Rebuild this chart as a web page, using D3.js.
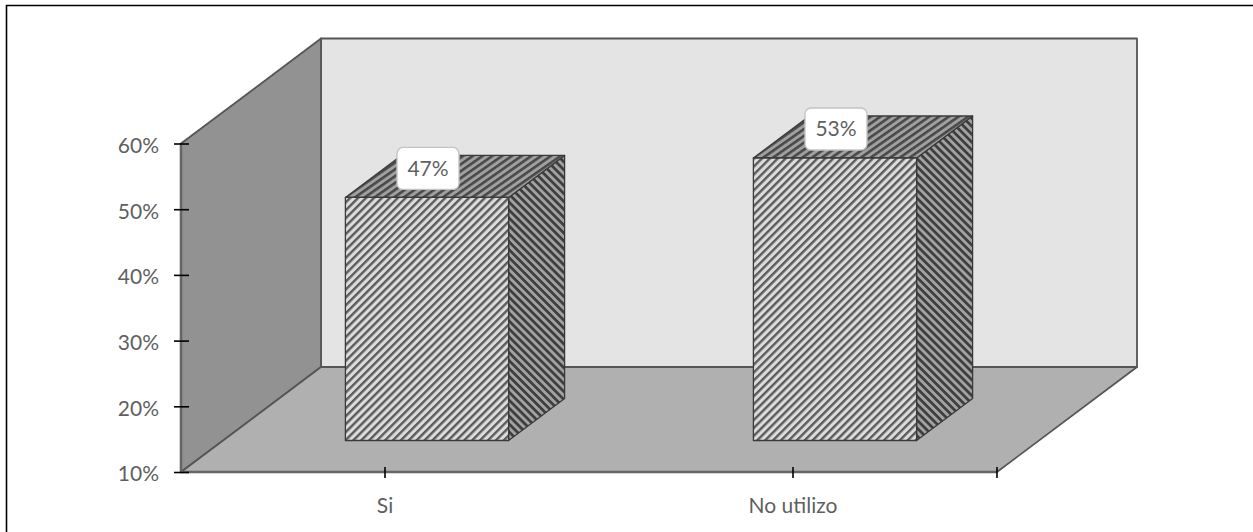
<!DOCTYPE html>
<html>
<head>
<meta charset="utf-8">
<style>
html, body { margin: 0; padding: 0; background: #fff; }
svg { display: block; }
text { font-family: Lato, "Open Sans", sans-serif; fill: #5f5f5f; }
</style>
<script src="https://cdn.jsdelivr.net/npm/d3@7/dist/d3.min.js"></script>
</head>
<body>
<svg id="chart" width="1253" height="532"></svg>
<script>
// Chart content
const categories = ["Si", "No utilizo"];
const shares = [47, 53];
const axisTicks = [10, 20, 30, 40, 50, 60];

const W = 1253, H = 532;
const svg = d3.select("#chart").attr("viewBox", `0 0 ${W} ${H}`);

// Front plane scales, plus the oblique shift that gives the box its depth
const y = d3.scaleLinear().domain([10, 60]).range([472, 143.5]);
const x = d3.scaleBand().domain(categories).range([181, 997]);
const depth = d3.scaleLinear().domain([0, 1]).range([0, 140]);
const lift = d3.scaleLinear().domain([0, 1]).range([0, -105]);
const at = (px, py, d = 0) => [px + depth(d), py + lift(d)];
const poly = pts => "M" + pts.map(p => p.join(",")).join("L") + "Z";

// Hatch fills for the three visible faces of each column
const defs = svg.append("defs");
function hatch(id, bg, ink, period, ang, inkWidth) {
  const p = defs.append("pattern").attr("id", id)
    .attr("patternUnits", "userSpaceOnUse")
    .attr("width", period).attr("height", period)
    .attr("patternTransform", `rotate(${ang})`);
  p.append("rect").attr("width", period).attr("height", period).attr("fill", bg);
  p.append("rect").attr("width", period).attr("height", inkWidth).attr("fill", ink);
}
hatch("hatch-front", "#dcdcdc", "#5a5a5a", 5.6, -45, 2.4);
hatch("hatch-top", "#a0a0a0", "#484848", 5.6, -35, 2.6);
hatch("hatch-side", "#a2a2a2", "#3c3c3c", 5.6, 45, 2.7);

// Sheet edge along the top and left
svg.append("path").attr("d", `M6.5,${H}V5.5H${W}`)
  .attr("fill", "none").attr("stroke", "#000").attr("stroke-width", 1.6);

const [xL, xR] = x.range();
const yB = y.range()[0], yT = y.range()[1];
const wallStroke = { stroke: "#555555", "stroke-width": 1.8, "stroke-linejoin": "round" };
function face(d, fill, s = wallStroke) {
  const el = svg.append("path").attr("d", d).attr("fill", fill);
  Object.entries(s).forEach(([k, v]) => el.attr(k, v));
  return el;
}

// Back wall, side wall, floor
face(poly([at(xL, yB, 1), at(xR, yB, 1), at(xR, yT, 1), at(xL, yT, 1)]), "#e4e4e4");
face(poly([at(xL, yB), at(xL, yB, 1), at(xL, yT, 1), at(xL, yT)]), "#929292");
face(poly([at(xL, yB), at(xR, yB), at(xR, yB, 1), at(xL, yB, 1)]), "#b0b0b0");

// Heavier front edges of the floor and side wall
svg.append("path")
  .attr("d", `M${at(xL, yT).join(",")}V${yB}H${xR}`)
  .attr("fill", "none").attr("stroke", "#666666").attr("stroke-width", 2.6);

// Columns stand between 30% and 70% of the floor depth
const barInset = 0.3, barDepth = 0.4;
const barWidth = x.bandwidth() * 0.4;
const barStroke = { stroke: "#3a3a3a", "stroke-width": 1.3, "stroke-linejoin": "round" };
categories.forEach((c, i) => {
  const cx = x(c) + x.bandwidth() / 2;
  const l = cx - barWidth / 2, r = cx + barWidth / 2;
  const top = y(shares[i]), bot = yB;
  const d0 = barInset, d1 = barInset + barDepth;
  face(poly([at(r, bot, d0), at(r, bot, d1), at(r, top, d1), at(r, top, d0)]), "url(#hatch-side)", barStroke);
  face(poly([at(l, top, d0), at(r, top, d0), at(r, top, d1), at(l, top, d1)]), "url(#hatch-top)", barStroke);
  face(poly([at(l, bot, d0), at(r, bot, d0), at(r, top, d0), at(l, top, d0)]), "url(#hatch-front)", barStroke);
});

// Value axis
const yAxis = svg.append("g").attr("transform", `translate(${xL},0)`)
  .call(d3.axisLeft(y).tickValues(axisTicks).tickFormat(d => d + "%").tickSize(0).tickPadding(22));
yAxis.select(".domain").remove();
yAxis.selectAll(".tick text").attr("font-size", 21).attr("dy", "0.42em");
yAxis.selectAll(".tick line").attr("x1", -7).attr("x2", 8).attr("stroke", "#000").attr("stroke-width", 1.6);

// Category axis, with an extra tick closing the floor edge
const xAxis = svg.append("g").attr("transform", `translate(0,${yB})`)
  .call(d3.axisBottom(x).tickSize(0).tickPadding(26));
xAxis.select(".domain").remove();
xAxis.selectAll(".tick text").attr("font-size", 21);
xAxis.selectAll(".tick line").attr("y1", -5).attr("y2", 6).attr("stroke", "#000").attr("stroke-width", 1.6);
xAxis.append("line").attr("x1", xR).attr("x2", xR).attr("y1", -5).attr("y2", 6)
  .attr("stroke", "#000").attr("stroke-width", 1.6);

// Value callouts over the column tops
categories.forEach((c, i) => {
  const cx = x(c) + x.bandwidth() / 2;
  const [lx, ly] = at(cx, y(shares[i]), 0.3);
  const g = svg.append("g").attr("transform", `translate(${lx + 1},${ly})`);
  g.append("rect").attr("x", -31).attr("y", -50).attr("width", 62).attr("height", 42).attr("rx", 6)
    .attr("fill", "#fff").attr("stroke", "#c4c4c4").attr("stroke-width", 1.4);
  g.append("text").attr("y", -21.5).attr("text-anchor", "middle").attr("font-size", 21)
    .text(shares[i] + "%");
});
</script>
</body>
</html>
